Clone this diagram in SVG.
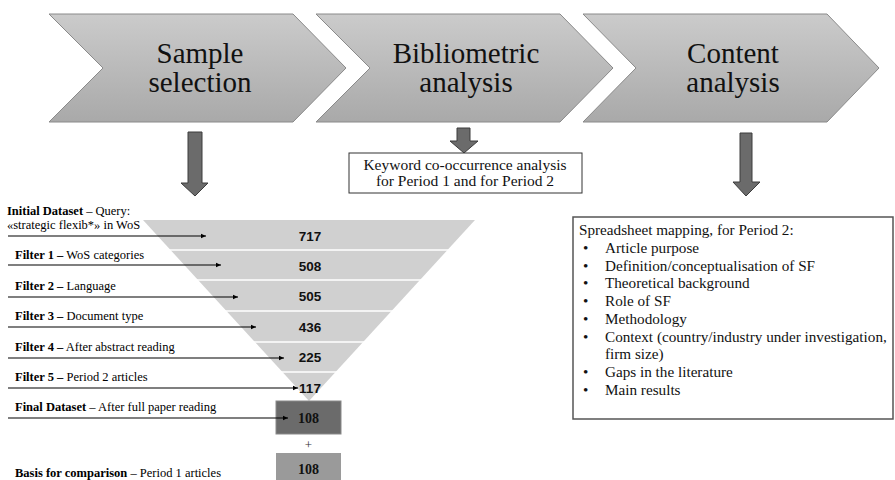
<svg xmlns="http://www.w3.org/2000/svg" width="895" height="480" viewBox="0 0 895 480">
<defs>
<linearGradient id="chev" x1="0" y1="0" x2="0" y2="1">
<stop offset="0" stop-color="#cbcbcb"/>
<stop offset="1" stop-color="#a9a9a9"/>
</linearGradient>
<marker id="ah" markerWidth="6" markerHeight="6" refX="5" refY="3" orient="auto" markerUnits="userSpaceOnUse">
<path d="M0,0.8 L5,3 L0,5.2 Z" fill="#000"/>
</marker>
<style>
.chev{fill:url(#chev);stroke:#8a8a8a;stroke-width:1}
.ct{font-family:"Liberation Serif","Times New Roman",serif;font-size:29px;fill:#111;text-anchor:middle}
.darr{fill:#6b6b6b;stroke:#3c3c3c;stroke-width:1}
.lab{font-family:"Liberation Serif","Times New Roman",serif;font-size:12.5px;fill:#000}
.num{font-family:"Liberation Sans",Arial,sans-serif;font-weight:bold;font-size:13.5px;fill:#111;text-anchor:middle}
.bnum{font-family:"Liberation Serif","Times New Roman",serif;font-weight:bold;font-size:14px;fill:#111;text-anchor:middle}
.sep{stroke:#fff;stroke-width:1.5}
.conn{stroke:#000;stroke-width:1.2;fill:none;marker-end:url(#ah)}
.box{fill:#fff;stroke:#333;stroke-width:1}
.bt{font-family:"Liberation Serif","Times New Roman",serif;font-size:15.5px;fill:#111}
.st{font-family:"Liberation Serif","Times New Roman",serif;font-size:15.2px;fill:#111}
</style>
</defs>
<rect width="895" height="480" fill="#fff"/>

<g id="step-sample">
<polygon class="chev" points="49,14 293,14 346,68 293,122 49,122 103,68"/>
<text class="ct" x="200" y="63">Sample</text>
<text class="ct" x="200" y="92">selection</text>
</g>
<g id="step-biblio">
<polygon class="chev" points="316,14 560,14 613,68 560,122 316,122 370,68"/>
<text class="ct" x="466" y="63">Bibliometric</text>
<text class="ct" x="466" y="92">analysis</text>
</g>
<g id="step-content">
<polygon class="chev" points="583,14 827,14 879,68 827,122 583,122 636,68"/>
<text class="ct" x="733" y="63">Content</text>
<text class="ct" x="733" y="92">analysis</text>
</g>

<g id="down-arrows">
<polygon class="darr" points="188,132 202,132 202,183 208,183 195,196 181,183 188,183"/>
<polygon class="darr" points="457,128 470,128 470,141 478,141 464,153 450,141 457,141"/>
<polygon class="darr" points="740,133 752,133 752,182 760,182 746,196 733,182 740,182"/>
</g>

<g id="keyword-box">
<rect class="box" x="349" y="153" width="233" height="40"/>
<text class="bt" x="465" y="170" text-anchor="middle">Keyword co-occurrence analysis</text>
<text class="bt" x="465" y="186" text-anchor="middle">for Period 1 and for Period 2</text>
</g>

<g id="funnel">
<polygon points="143,220 475,220 309,401" fill="#d0d0d0"/>
<line class="sep" x1="100" y1="250" x2="520" y2="250"/>
<line class="sep" x1="100" y1="280" x2="520" y2="280"/>
<line class="sep" x1="100" y1="311" x2="520" y2="311"/>
<line class="sep" x1="100" y1="342" x2="520" y2="342"/>
<line class="sep" x1="100" y1="372" x2="520" y2="372"/>
<text class="num" x="310" y="241">717</text>
<text class="num" x="310" y="271">508</text>
<text class="num" x="310" y="301">505</text>
<text class="num" x="310" y="332">436</text>
<text class="num" x="310" y="362">225</text>
<text class="num" x="310" y="393">117</text>
</g>
<g id="final-dataset">
<rect x="276" y="401" width="65" height="33" fill="#6b6b6b" stroke="#8a8a8a" stroke-width="1"/>
<text class="bnum" x="308.5" y="423">108</text>
</g>
<g id="plus">
<text x="308.5" y="449" font-family="Liberation Serif,serif" font-size="13" fill="#333" text-anchor="middle">+</text>
</g>
<g id="basis">
<rect x="276" y="453" width="65" height="30" fill="#9a9a9a"/>
<text class="bnum" x="308.5" y="474">108</text>
</g>

<g id="labels">
<text class="lab" x="7" y="215"><tspan font-weight="bold">Initial Dataset</tspan> – Query:</text>
<text class="lab" x="7" y="229">«strategic flexib*» in WoS</text>
<text class="lab" x="15" y="259"><tspan font-weight="bold">Filter 1 –</tspan> WoS categories</text>
<text class="lab" x="15" y="290"><tspan font-weight="bold">Filter 2 –</tspan> Language</text>
<text class="lab" x="15" y="320"><tspan font-weight="bold">Filter 3 –</tspan> Document type</text>
<text class="lab" x="15" y="351"><tspan font-weight="bold">Filter 4 –</tspan> After abstract reading</text>
<text class="lab" x="15" y="381"><tspan font-weight="bold">Filter 5 –</tspan> Period 2 articles</text>
<text class="lab" x="15" y="411"><tspan font-weight="bold">Final Dataset</tspan> – After full paper reading</text>
<text class="lab" x="15" y="477"><tspan font-weight="bold">Basis for comparison</tspan> – Period 1 articles</text>
</g>

<g id="connectors">
<line class="conn" x1="8" y1="236" x2="206" y2="236"/>
<line class="conn" x1="8" y1="265" x2="221" y2="265"/>
<line class="conn" x1="8" y1="297" x2="238" y2="297"/>
<line class="conn" x1="8" y1="327" x2="256" y2="327"/>
<line class="conn" x1="8" y1="358" x2="284" y2="358"/>
<line class="conn" x1="8" y1="388" x2="298" y2="388"/>
<line class="conn" x1="8" y1="418" x2="288" y2="418"/>
</g>

<g id="spreadsheet-box">
<rect x="573" y="217" width="320" height="202" fill="#fff" stroke="#555" stroke-width="1.5"/>
<text class="st" x="579" y="235">Spreadsheet mapping, for Period 2:</text>
<g class="st">
<text x="583" y="253">•</text><text x="605" y="253">Article purpose</text>
<text x="583" y="271">•</text><text x="605" y="271">Definition/conceptualisation of SF</text>
<text x="583" y="288">•</text><text x="605" y="288">Theoretical background</text>
<text x="583" y="306">•</text><text x="605" y="306">Role of SF</text>
<text x="583" y="324">•</text><text x="605" y="324">Methodology</text>
<text x="583" y="342">•</text><text x="605" y="342">Context (country/industry under investigation,</text>
<text x="605" y="359">firm size)</text>
<text x="583" y="377">•</text><text x="605" y="377">Gaps in the literature</text>
<text x="583" y="395">•</text><text x="605" y="395">Main results</text>
</g>
</g>
</svg>
